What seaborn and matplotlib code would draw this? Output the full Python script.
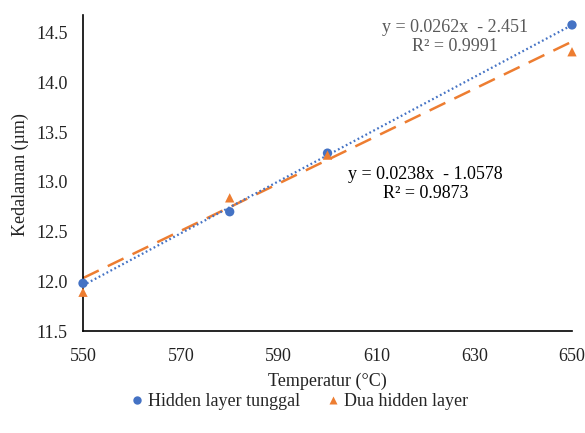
import numpy as np
import pandas as pd
import matplotlib
matplotlib.use("Agg")
import matplotlib.pyplot as plt
import seaborn as sns

temps = [550, 580, 600, 650]
tunggal = [11.98, 12.70, 13.29, 14.58]
dua = [11.89, 12.84, 13.27, 14.31]
fit_tunggal = [0.0262, -2.451]
fit_dua = [0.0238, -1.0578]
xticks = [550, 570, 590, 610, 630, 650]
yticks = [11.5, 12.0, 12.5, 13.0, 13.5, 14.0, 14.5]

sns.set_theme(style="white")
plt.rcParams['font.family'] = ['Liberation Serif', 'DejaVu Serif']

blue = "#4472C4"
orange = "#ED7D31"

fig = plt.figure(figsize=(5.85, 4.33), dpi=100)
ax = fig.add_axes([83/585, 1-331/433, (572-83)/585, (331-15)/433])

xs = np.array([550, 650])
ax.plot(xs, fit_dua[0]*xs + fit_dua[1], color=orange, lw=1.8, ls=(0, (7, 4)), zorder=2)
ax.plot(xs, fit_tunggal[0]*xs + fit_tunggal[1], color=blue, lw=1.6, ls=(0, (0.8, 1.2)), zorder=3)

df = pd.DataFrame({"x": temps * 2, "y": tunggal + dua,
                   "s": ["Hidden layer tunggal"] * 4 + ["Dua hidden layer"] * 4})
sns.scatterplot(data=df, x="x", y="y", hue="s", style="s",
                markers={"Hidden layer tunggal": "o", "Dua hidden layer": "^"},
                palette={"Hidden layer tunggal": blue, "Dua hidden layer": orange},
                s=45, edgecolor="none", ax=ax, zorder=4, clip_on=False)

ax.set_xlim(550, 650)
ax.set_ylim(11.5, 14.68)
ax.set_xticks(xticks)
ax.set_yticks(yticks)
ax.set_yticklabels([f"{v:.1f}" for v in yticks])
ax.tick_params(labelsize=13, colors="#222222", length=0)
ax.tick_params(axis="x", pad=12)
ax.tick_params(axis="y", pad=11)
for s in ["top", "right"]:
    ax.spines[s].set_visible(False)
for s in ["left", "bottom"]:
    ax.spines[s].set_color("black")
    ax.spines[s].set_linewidth(1.2)

ax.set_xlabel("Temperatur (°C)", fontsize=13, color="#222222")
ax.set_ylabel("Kedalaman (µm)", fontsize=13, color="#222222")
ax.xaxis.set_label_coords(0.499, -0.158)
ax.yaxis.set_label_coords(-0.129, 0.494)
ax.xaxis.label.set_va("center")
ax.yaxis.label.set_va("center")

ax.text(626, 14.455, "y = 0.0262x  - 2.451\nR² = 0.9991", ha="center", va="center",
        fontsize=13, color="#595959", linespacing=1.15)
ax.text(620, 12.98, "y = 0.0238x  - 1.0578\nR² = 0.9873", ha="center", va="center",
        fontsize=13, color="black", linespacing=1.15)

h, l = ax.get_legend_handles_labels()
leg = ax.legend(h, l, loc="center", ncol=2, frameon=False, fontsize=13,
                handletextpad=0.0, columnspacing=1.2, handlelength=1.2,
                markerscale=0.9)
leg.set_bbox_to_anchor((297/585, 1-402/433), transform=fig.transFigure)

fig.savefig("out.png", dpi=100)
